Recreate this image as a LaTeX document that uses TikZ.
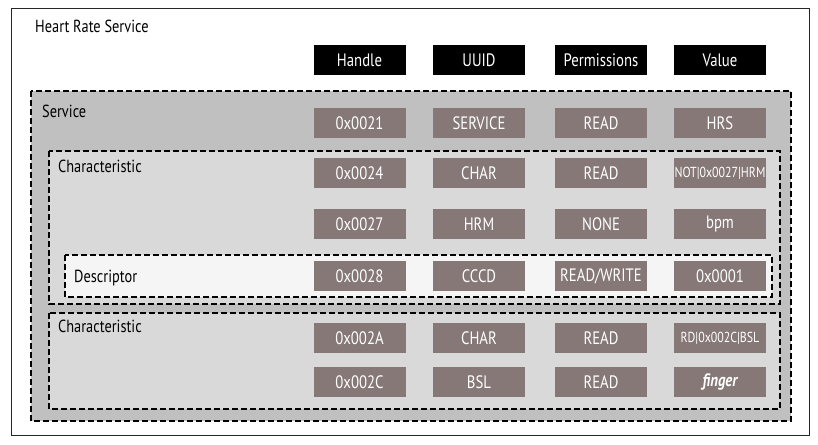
\documentclass[tikz,border=0pt]{standalone}
\usepackage{fontspec}
\setmainfont{PT Sans}[FakeStretch=0.82]
\usetikzlibrary{positioning}

\definecolor{cellbrown}{HTML}{857876}
\definecolor{srvgray}{HTML}{C0C0C0}
\definecolor{chargray}{HTML}{D9D9D9}
\definecolor{descwhite}{HTML}{F5F5F5}

\newcommand{\valsz}{\fontsize{14.5}{14.5}\selectfont}

\tikzset{
  hdr/.style={fill=black,text=white,minimum width=92pt,minimum height=30pt,inner sep=0pt,font=\fontsize{18}{18}\selectfont},
  cell/.style={fill=cellbrown,text=white,minimum width=92pt,minimum height=30pt,inner sep=0pt,font=\fontsize{18}{18}\selectfont},
  grp/.style={draw=black,dashed,dash pattern=on 6pt off 3pt,line width=1.8pt},
  lbl/.style={anchor=base west,inner sep=0pt,font=\fontsize{17.5}{17.5}\selectfont}
}

\begin{document}
\begin{tikzpicture}[x=1pt,y=-1pt]
  \useasboundingbox (0,0) rectangle (818,444);
  \draw[draw=black!85,line width=1pt,fill=white] (11,9) rectangle (809,435);
  \node[lbl] (title) at (35,33) {Heart Rate Service};

  % group boxes
  \draw[grp,fill=srvgray]  (31,91)  rectangle (791,421);
  \draw[grp,fill=chargray] (49,151) rectangle (780,304);
  \draw[grp,fill=descwhite] (65,255) rectangle (772,297);
  \draw[grp,fill=chargray] (49,313) rectangle (780,409);

  \node[lbl] (lsrv)   at (42,117)  {Service};
  \node[lbl] (lchar1) at (58,172)  {Characteristic};
  \node[lbl] (ldesc)  at (74,282)  {Descriptor};
  \node[lbl] (lchar2) at (58,332)  {Characteristic};

  % header row
  \node[hdr] (handle) at (359.5,60) {Handle};
  \node[hdr] (uuid)   at (479,60)   {UUID};
  \node[hdr] (perm)   at (601,60)   {Permissions};
  \node[hdr] (value)  at (720,60)   {Value};

  % attribute rows
  \foreach \nm/\y/\h/\u/\p/\v in {
      srv/123/0x0021/SERVICE/READ/HRS,
      chra/173/0x0024/CHAR/READ/{\valsz NOT|0x0027|HRM},
      hrm/224/0x0027/HRM/NONE/bpm,
      cccd/276/0x0028/CCCD/READ\slash WRITE/0x0001,
      chrb/338/0x002A/CHAR/READ/{\valsz RD|0x002C|BSL},
      bsl/382/0x002C/BSL/READ/{\bfseries\itshape finger}} {
    \node[cell] (\nm-h) at (359.5,\y) {\h};
    \node[cell] (\nm-u) at (479,\y)   {\u};
    \node[cell] (\nm-p) at (601,\y)   {\p};
    \node[cell] (\nm-v) at (720,\y)   {\v};
  }
\end{tikzpicture}
\end{document}
